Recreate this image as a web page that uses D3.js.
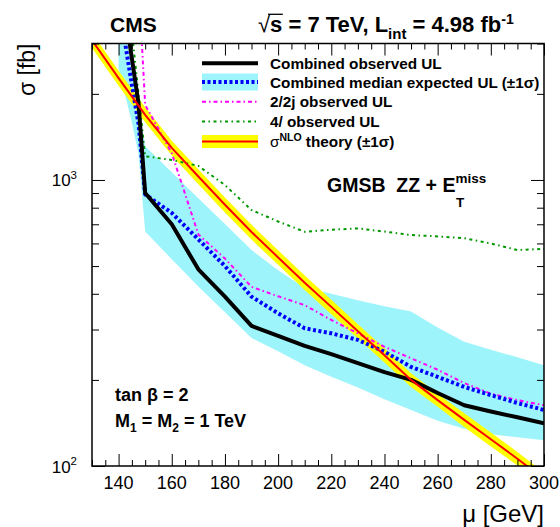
<!DOCTYPE html>
<html><head><meta charset="utf-8">
<script src="https://cdn.jsdelivr.net/npm/d3@7"></script>
<style>
body{margin:0;background:#fff}
svg{display:block}
text{font-family:"Liberation Sans",Arial,Helvetica,sans-serif;fill:#000}
</style>
</head><body>
<svg id="c" width="560" height="527"></svg>
<script>
// ---- data ----
const massObs=[140,147.5,150,160,170,180,190,200,210,220,230,240,250,260,270,280,290,300];
const obsUL=[5500,1850,900,700,487,391,309,285,263,246,229,213,200,180,163,155,148,141];

const massExp=[140,145,147.5,150,160,170,180,190,200,210,220,230,240,250,260,270,280,290,300];
const expMedian=[4180,2150,1570,890,767,620,500,391,342,303,291,276,251,222,205,189,177,166,157];
const expUp=[4370,2430,1815,1313,1065,863,701,569,483,420,400,380,362,347,305,272,255,240,225];
const expDown=[2450,1590,1230,661,528,424,345,280,252,225,205,188,171,157,144,135,129,126,123];

const mass2l2j=[147.5,150,160,170,180,190,200,210,220,230,240,250,260,270,280,290,300];
const obs2l2j=[5000,1830,1240,645,531,423,392,365,324,291,261,238,217,195,179,170,163];

const mass4l=[145,150,160,170,180,190,200,210,220,230,240,250,260,270,280,290,300];
const obs4l=[3300,1210,1175,1120,960,785,716,659,670,677,660,642,635,626,600,569,574];

const massTh=[130,140,150,160,170,180,190,200,210,220,230,240,250,260,270,280,290,300];
const sigmaNLO=[3080,2270,1690,1295,1028,819,658,536,437,360,296,244,200,170,145,124,106,90];
const sigmaUp=[3270,2410,1795,1372,1090,868,697,568,463,381,313,258,211,179,153,131,112,95];
const sigmaDown=[2895,2135,1590,1218,967,770,619,505,412,339,279,230,189,161,137,117,100.5,85];

const xMajor=[140,160,180,200,220,240,260,280,300];
const xTickLabels=["140","160","180","200","220","240","260","280","300"];
const xMinor=[130,135,145,150,155,165,170,175,185,190,195,205,210,215,225,230,235,245,250,255,265,270,275,285,290,295];
const yMajor=[100,1000];
const yTickExp=["2","3"];
const yMinor=[200,300,400,500,600,700,800,900,2000,3000];

const legendLabels=["Combined observed UL","Combined median expected UL (\u00B11\u03C3)","2/2j observed UL","4/ observed UL","theory"];

// ---- layout ----
const M={l:92,r:544,t:43.5,b:466};
const svg=d3.select("#c");
const x=d3.scaleLinear().domain([130,300]).range([M.l,M.r]);
const y=d3.scaleLog().domain([100,3000]).range([M.b,M.t]);

const defs=svg.append("defs");
defs.append("clipPath").attr("id","clip").append("rect")
  .attr("x",M.l).attr("y",M.t).attr("width",M.r-M.l).attr("height",M.b-M.t);

const cyanFill="#9ef4fb";
const plot=svg.append("g").attr("clip-path","url(#clip)");

const band=(xs,lo,hi)=>d3.area().x((d,i)=>x(xs[i])).y0((d,i)=>y(lo[i])).y1((d,i)=>y(hi[i]))(xs);
const line=(xs,ys)=>d3.line().x((d,i)=>x(xs[i])).y((d,i)=>y(ys[i]))(xs);

// bands
plot.append("path").attr("d",band(massExp,expDown,expUp)).attr("fill",cyanFill);
plot.append("path").attr("d",band(massTh,sigmaDown,sigmaUp)).attr("fill","#ffff00");

const styles={
  obs:{stroke:"#000",w:4,dash:null},
  exp:{stroke:"#0000ff",w:4,dash:"3,2.5"},
  l2j:{stroke:"#ff00ff",w:2,dash:"4,3,1.5,3"},
  l4:{stroke:"#009900",w:2,dash:"3,3.5,1.5,3.5"},
  th:{stroke:"#ff0000",w:2,dash:null}
};
function drawLine(xs,ys,s){
  plot.append("path").attr("d",line(xs,ys)).attr("fill","none")
    .attr("stroke",s.stroke).attr("stroke-width",s.w)
    .attr("stroke-dasharray",s.dash).attr("stroke-linejoin","round");
}
drawLine(mass4l,obs4l,styles.l4);
drawLine(mass2l2j,obs2l2j,styles.l2j);
drawLine(massExp,expMedian,styles.exp);
drawLine(massObs,obsUL,styles.obs);
drawLine(massTh,sigmaNLO,styles.th);

// ---- axes (ticks inside the frame) ----
function ax(gen,tr,vals,size){
  const g=svg.append("g").attr("transform",tr)
    .call(gen.tickValues(vals).tickSize(size).tickSizeOuter(0).tickFormat(""));
  g.select(".domain").remove();
  g.selectAll("line").attr("stroke","#000").attr("stroke-width",1);
  return g;
}
ax(d3.axisBottom(x),`translate(0,${M.b})`,xMajor,-12);
ax(d3.axisBottom(x),`translate(0,${M.b})`,xMinor,-6);
ax(d3.axisTop(x),`translate(0,${M.t})`,xMajor,-12);
ax(d3.axisTop(x),`translate(0,${M.t})`,xMinor,-6);
ax(d3.axisLeft(y),`translate(${M.l},0)`,yMajor,-13);
ax(d3.axisLeft(y),`translate(${M.l},0)`,yMinor,-7);
ax(d3.axisRight(y),`translate(${M.r},0)`,yMajor,-13);
ax(d3.axisRight(y),`translate(${M.r},0)`,yMinor,-7);

svg.append("rect").attr("x",M.l).attr("y",M.t).attr("width",M.r-M.l).attr("height",M.b-M.t)
  .attr("fill","none").attr("stroke","#000").attr("stroke-width",1.5);

// tick labels
svg.append("g").selectAll("text").data(xMajor).join("text")
  .attr("x",d=>x(d)).attr("y",M.b+23).attr("text-anchor","middle")
  .attr("font-size",18).text((d,i)=>xTickLabels[i]);
const yl=svg.append("g").selectAll("text").data(yMajor).join("text")
  .attr("x",M.l-15).attr("y",d=>y(d)+6.5).attr("text-anchor","end").attr("font-size",17);
yl.append("tspan").text("10");
yl.append("tspan").attr("dy",-7.5).attr("font-size",11.5).text((d,i)=>yTickExp[i]);

// axis titles
svg.append("text").attr("x",M.r).attr("y",522).attr("text-anchor","end")
  .attr("font-size",24).text("\u03BC [GeV]");
svg.append("text").attr("transform",`translate(35,${M.t}) rotate(-90)`).attr("text-anchor","end")
  .attr("font-size",23).text("\u03C3 [fb]");

// header
svg.append("text").attr("x",110).attr("y",32).attr("font-size",21).attr("font-weight","bold").text("CMS");
const hdr=svg.append("text").attr("x",258).attr("y",32).attr("font-size",22).attr("font-weight","bold");
hdr.append("tspan").attr("font-weight","normal").text("\u221A");
hdr.append("tspan").text("s");
hdr.append("tspan").text(" = 7 TeV, L");
hdr.append("tspan").attr("dy",7).attr("font-size",15).text("int");
hdr.append("tspan").attr("dy",-7).text(" = 4.98 fb");
hdr.append("tspan").attr("dy",-8).attr("font-size",14).text("-1");
// overline of the square root
{
  const n=hdr.node();
  const b=n.getEndPositionOfChar(1);
  const r0=n.getStartPositionOfChar(0);
  svg.append("line").attr("x1",r0.x+10).attr("x2",b.x+0.5).attr("y1",14.3).attr("y2",14.3)
    .attr("stroke","#000").attr("stroke-width",1.3);
}

// GMSB label
const gm=svg.append("text").attr("x",327).attr("y",192).attr("font-size",19.5).attr("font-weight","bold");
gm.append("tspan").text("GMSB\u00A0\u00A0ZZ + E");
gm.append("tspan").attr("dy",-9).attr("font-size",13.5).text("miss");
{
  const n=gm.node(); const e=n.getEndPositionOfChar(11);
  svg.append("text").attr("x",e.x+0.5).attr("y",206.5).attr("font-size",13.5).attr("font-weight","bold").text("T");
}

// bottom-left labels
svg.append("text").attr("x",115).attr("y",401).attr("font-size",18).attr("font-weight","bold").text("tan \u03B2 = 2");
const mm=svg.append("text").attr("x",115).attr("y",427).attr("font-size",18).attr("font-weight","bold");
mm.append("tspan").text("M");
mm.append("tspan").attr("dy",5).attr("font-size",12).text("1");
mm.append("tspan").attr("dy",-5).text(" = M");
mm.append("tspan").attr("dy",5).attr("font-size",12).text("2");
mm.append("tspan").attr("dy",-5).text(" = 1 TeV");

// ---- legend ----
const lx0=202, lx1=258, tx=270;
const ly=[63.3,82,101.7,121.5,141.5];
const lg=svg.append("g");
lg.append("rect").attr("x",lx0).attr("y",ly[1]-8.5).attr("width",lx1-lx0).attr("height",17).attr("fill",cyanFill);
lg.append("rect").attr("x",lx0).attr("y",ly[4]-6.5).attr("width",lx1-lx0).attr("height",13).attr("fill","#ffff00");
[styles.obs,styles.exp,styles.l2j,styles.l4,styles.th].forEach((s,i)=>{
  lg.append("line").attr("x1",lx0).attr("x2",lx1).attr("y1",ly[i]).attr("y2",ly[i])
    .attr("stroke",s.stroke).attr("stroke-width",s.w).attr("stroke-dasharray",s.dash);
});
legendLabels.slice(0,4).forEach((t,i)=>{
  lg.append("text").attr("x",tx).attr("y",ly[i]+5.5).attr("font-size",15.3).attr("font-weight","bold").text(t);
});
const th=lg.append("text").attr("x",tx).attr("y",ly[4]+5.5).attr("font-size",15.3).attr("font-weight","bold");
th.append("tspan").attr("font-weight","normal").text("\u03C3");
th.append("tspan").attr("dy",-6).attr("font-size",10.5).text("NLO");
th.append("tspan").attr("dy",6).text(" theory (\u00B11\u03C3)");
</script>
</body></html>
